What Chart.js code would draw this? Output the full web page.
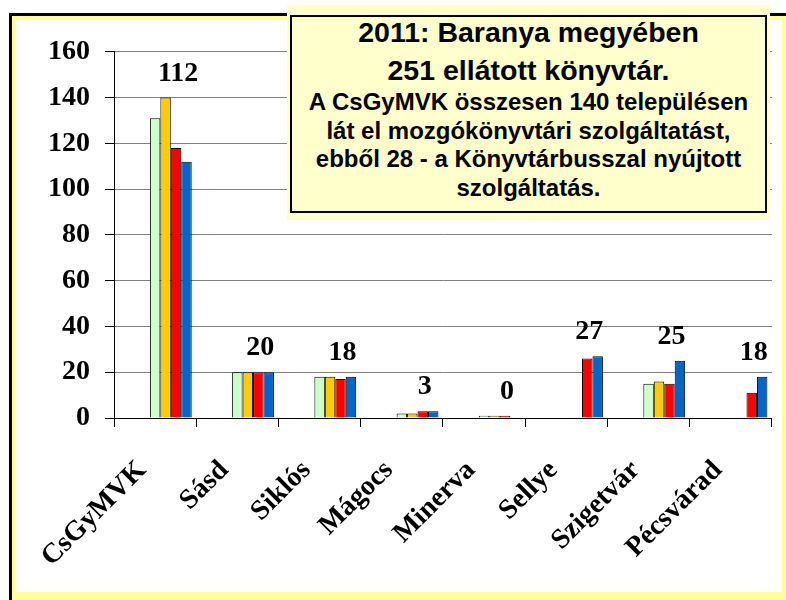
<!DOCTYPE html>
<html>
<head>
<meta charset="utf-8">
<script src="https://cdn.jsdelivr.net/npm/chart.js@4/dist/chart.umd.min.js"></script>
<style>
  body { margin: 0; background: #fff; width: 786px; height: 600px; overflow: hidden; position: relative; }
  #frame { position: absolute; left: 9px; top: 13px; width: 777px; height: 587px; box-sizing: border-box;
           border-left: 3px solid #000; border-top: 3px solid #000; background: #ffff99; }
  #plot { position: absolute; left: 15px; top: 20px; width: 767px; height: 572px; background: #fff; }
  #noteBg { position: absolute; left: 287px; top: 5px; width: 483px; height: 215px; background: #ffffcc; }
  #note { position: absolute; left: 290px; top: 15px; width: 477px; height: 198px; box-sizing: border-box;
          border: 2px solid #000; background: #ffffcc; font-family: "Liberation Sans", Arial, sans-serif;
          font-weight: bold; color: #000; text-align: center; }
  #note .title { position: absolute; left: 0; right: 0; top: -4px; font-size: 28.5px; line-height: 38px; }
  #note .body { position: absolute; left: 0; right: 0; top: 71px; font-size: 24px; line-height: 28.7px; }
</style>
</head>
<body>
<div id="frame"></div>
<div id="plot"><canvas id="konyvtarChart" width="767" height="572"></canvas></div>
<div id="noteBg"></div>
<div id="note">
  <div class="title">2011: Baranya megyében<br>251 ellátott könyvtár.</div>
  <div class="body">A CsGyMVK összesen 140 településen<br>lát el mozgókönyvtári szolgáltatást,<br>ebből 28 - a Könyvtárbusszal nyújtott<br>szolgáltatás.</div>
</div>
<script>
// Telepulesek es az ellatott konyvtarak szama (4 sorozat)
const categories = ["CsGyMVK", "Sásd", "Siklós", "Mágocs", "Minerva", "Sellye", "Szigetvár", "Pécsvárad"];
const series1 = [131, 20, 18, 2, 1, null, 15, null];
const series2 = [140, 20, 18, 2, 1, null, 16, null];
const series3 = [118, 20, 17, 3, 1, 26, 15, 11];
const series4 = [112, 20, 18, 3, 0, 27, 25, 18];
// szamok a csoportok felett
const labelValues = [112, 20, 18, 3, 0, 27, 25, 18];
const yTicks = [0, 20, 40, 60, 80, 100, 120, 140, 160];

// the original chart has three empty series slots before the four shown ones
const emptySlots = 3;
const allSeries = [series1, series2, series3, series4];
const seriesColors = ["#ccffcc", "#ffcc00", "#ff0000", "#0066cc"];

const datasets = [];
for (let i = 0; i < emptySlots; i++) {
  datasets.push({ label: "", data: categories.map(() => null) });
}
allSeries.forEach((s, i) => {
  datasets.push({
    label: "Sorozat " + (i + 1),
    data: s,
    backgroundColor: seriesColors[i],
    borderColor: "#000",
    borderWidth: 1,
  });
});

const serif = "'Liberation Serif', 'Times New Roman', serif";

// values above the groups
const topLabels = {
  id: "topLabels",
  afterDatasetsDraw(chart) {
    const { ctx, scales: { x, y } } = chart;
    ctx.save();
    ctx.font = "bold 28px " + serif;
    ctx.textAlign = "center";
    ctx.textBaseline = "middle";
    ctx.fillStyle = "#000";
    labelValues.forEach((v, i) => {
      const top = Math.max(...allSeries.map((s) => s[i] ?? 0));
      ctx.fillText(String(v), x.getPixelForValue(i) + 23, y.getPixelForValue(top) - 24);
    });
    ctx.restore();
  },
};

const config = {
  type: "bar",
  data: { labels: categories, datasets: datasets },
  options: {
    responsive: false,
    animation: false,
    layout: { padding: { top: 26, right: 7, left: 0, bottom: 0 } },
    datasets: { bar: { categoryPercentage: 0.89, barPercentage: 1 } },
    plugins: { legend: { display: false }, tooltip: { enabled: false } },
    scales: {
      x: {
        afterFit: (scale) => { scale.height = 174; },
        grid: { drawOnChartArea: false, offset: true, tickLength: 9, color: "#000" },
        border: { color: "#000", width: 1 },
        ticks: {
          autoSkip: false, maxRotation: 45, minRotation: 45, padding: 27, labelOffset: -13,
          color: "#000", font: { family: serif, size: 28, weight: "bold" },
        },
      },
      y: {
        min: 0,
        max: 160,
        afterFit: (scale) => { scale.width = 99; },
        afterBuildTicks: (scale) => { scale.ticks = yTicks.map((v) => ({ value: v })); },
        grid: { color: "#808080", tickColor: "#000", tickLength: 9 },
        border: { color: "#000", width: 1 },
        ticks: { padding: 15, color: "#000", font: { family: serif, size: 28, weight: "bold" } },
      },
    },
  },
  plugins: [topLabels],
};

const konyvtarChart = new Chart(document.getElementById("konyvtarChart"), config);
</script>
</body>
</html>
